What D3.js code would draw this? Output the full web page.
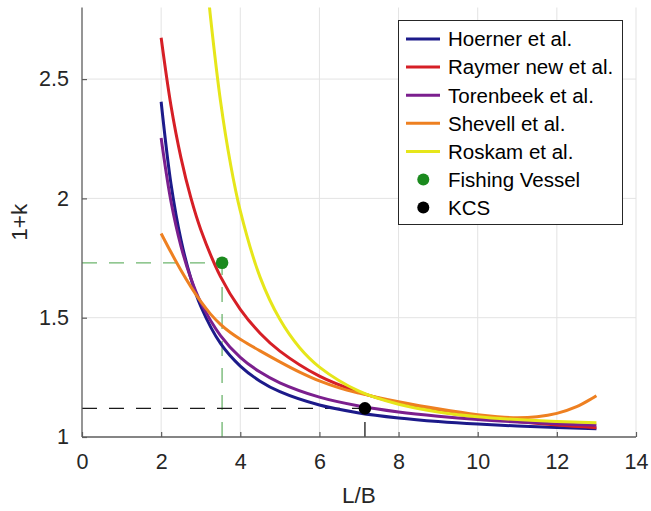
<!DOCTYPE html>
<html>
<head>
<meta charset="utf-8">
<script src="https://cdn.jsdelivr.net/npm/d3@7"></script>
<style>
  html, body { margin: 0; padding: 0; background: #fff; }
  svg { display: block; font-family: "Liberation Sans", Arial, Helvetica, sans-serif; }
</style>
</head>
<body>
<svg id="chart" width="651" height="511"></svg>
<script>
// Form factor (1+k) versus slenderness ratio L/B for several empirical methods
const lbSteep = [2, 2.25, 2.5, 2.75, 3, 3.5, 4, 4.5, 5, 6, 7, 8, 9, 10, 11, 12, 13];
const hoerner   = [2.405, 2.059, 1.827, 1.666, 1.548, 1.392, 1.297, 1.234, 1.190, 1.134, 1.101, 1.080, 1.065, 1.054, 1.046, 1.040, 1.035];
const raymerNew = [2.673, 2.387, 2.171, 2.003, 1.870, 1.672, 1.535, 1.435, 1.360, 1.255, 1.188, 1.141, 1.108, 1.083, 1.065, 1.050, 1.039];
const torenbeek = [2.253, 1.986, 1.800, 1.665, 1.564, 1.425, 1.334, 1.272, 1.227, 1.167, 1.130, 1.105, 1.087, 1.073, 1.063, 1.055, 1.049];

const lbShevell = [2, 2.25, 2.5, 2.75, 3, 3.25, 3.5, 3.75, 4, 4.5, 5, 5.5, 6, 6.5, 7, 7.5, 8, 9, 10, 10.5, 11, 11.5, 12, 12.5, 13];
const shevell   = [1.853, 1.774, 1.699, 1.630, 1.568, 1.515, 1.472, 1.438, 1.410, 1.361, 1.315, 1.272, 1.235, 1.206, 1.184, 1.165, 1.148, 1.118, 1.093, 1.085, 1.081, 1.085, 1.099, 1.127, 1.173];

const lbRoskam = [3.2, 3.25, 3.5, 3.75, 4, 4.5, 5, 5.5, 6, 7, 8, 9, 10, 11, 12, 13];
const roskam   = [2.839, 2.756, 2.408, 2.147, 1.948, 1.670, 1.493, 1.374, 1.293, 1.192, 1.137, 1.105, 1.085, 1.073, 1.065, 1.060];

// Reference vessels
const vesselNames = ["Fishing Vessel", "KCS"];
const vesselLB    = [3.54, 7.15];
const vesselK     = [1.73, 1.12];

const xTicks = [0, 2, 4, 6, 8, 10, 12, 14];
const yTicks = [1, 1.5, 2, 2.5];

const seriesNames  = ["Hoerner et al.", "Raymer new et al.", "Torenbeek et al.", "Shevell et al.", "Roskam et al."];
const seriesColors = ["#1c1a8a", "#d61f26", "#7b1f8e", "#ee8021", "#e6e61a"];
const vesselColors = ["#1b8a1e", "#000000"];
const guideColors  = ["#6db56d", "#1a1a1a"];

const series = [
  { name: seriesNames[0], xs: lbSteep,   ys: hoerner },
  { name: seriesNames[1], xs: lbSteep,   ys: raymerNew },
  { name: seriesNames[2], xs: lbSteep,   ys: torenbeek },
  { name: seriesNames[3], xs: lbShevell, ys: shevell },
  { name: seriesNames[4], xs: lbRoskam,  ys: roskam }
];

const svg = d3.select("#chart");
const plot = { left: 82, right: 636, top: 7.5, bottom: 437 };

const x = d3.scaleLinear().domain([0, 14]).range([plot.left, plot.right]);
const y = d3.scaleLinear().domain([1, 2.8]).range([plot.bottom, plot.top]);

svg.append("defs").append("clipPath").attr("id", "plotClip")
  .append("rect")
  .attr("x", plot.left).attr("y", plot.top)
  .attr("width", plot.right - plot.left).attr("height", plot.bottom - plot.top);

// Grid
const grid = svg.append("g").attr("stroke", "#e3e3e3").attr("stroke-width", 1);
xTicks.filter(t => t > 0).forEach(t => {
  grid.append("line")
    .attr("x1", x(t)).attr("x2", x(t))
    .attr("y1", plot.top).attr("y2", plot.bottom);
});
yTicks.filter(t => t > 1).forEach(t => {
  grid.append("line")
    .attr("x1", plot.left).attr("x2", plot.right)
    .attr("y1", y(t)).attr("y2", y(t));
});

// Dashed guide lines to each vessel
const guides = svg.append("g").attr("fill", "none").attr("stroke-width", 1.3);
vesselLB.forEach((lb, i) => {
  guides.append("path")
    .attr("d", `M${x(0)},${y(vesselK[i])}H${x(lb)}`)
    .attr("stroke", guideColors[i])
    .attr("stroke-dasharray", "15,12");
  guides.append("path")
    .attr("d", `M${x(lb)},${y(1)}V${y(vesselK[i])}`)
    .attr("stroke", guideColors[i])
    .attr("stroke-dasharray", "15,12");
});

// Curves
const line = d3.line().curve(d3.curveCatmullRom.alpha(0.5));
const curves = svg.append("g").attr("clip-path", "url(#plotClip)");
series.forEach((s, i) => {
  curves.append("path")
    .attr("d", line(s.xs.map((v, j) => [x(v), y(s.ys[j])])))
    .attr("fill", "none")
    .attr("stroke", seriesColors[i])
    .attr("stroke-width", 3)
    .attr("stroke-linejoin", "round");
});

// Vessel markers
vesselLB.forEach((lb, i) => {
  svg.append("circle")
    .attr("cx", x(lb)).attr("cy", y(vesselK[i]))
    .attr("r", 6.3)
    .attr("fill", vesselColors[i]);
});

// Axes
const axisColor = "#5c5c5c";
const xAxis = d3.axisBottom(x).tickValues(xTicks).tickSizeInner(-5).tickSizeOuter(0).tickPadding(17)
  .tickFormat(d3.format("d"));
const gx = svg.append("g").attr("transform", `translate(0,${plot.bottom})`).call(xAxis);
const yAxis = d3.axisLeft(y).tickValues(yTicks).tickSizeInner(-5).tickSizeOuter(0).tickPadding(13)
  .tickFormat(d => d3.format("")(d));
const gy = svg.append("g").attr("transform", `translate(${plot.left},0)`).call(yAxis);

[gx, gy].forEach(g => {
  g.select(".domain").attr("stroke", axisColor).attr("stroke-width", 1.3);
  g.selectAll(".tick line").attr("stroke", axisColor).attr("stroke-width", 1.2);
  g.selectAll(".tick text")
    .attr("fill", "#262626")
    .style("font-size", "21.5px")
    .style("font-family", "'Liberation Sans', Arial, sans-serif");
});
gy.select(".domain").attr("d", `M0,${plot.bottom}V${plot.top}`);
gx.select(".domain").attr("d", `M${plot.left},0H${plot.right}`);

// Axis titles
svg.append("text")
  .attr("x", (plot.left + plot.right) / 2).attr("y", 503)
  .attr("text-anchor", "middle")
  .attr("fill", "#262626")
  .style("font-size", "22.5px")
  .text("L/B");
svg.append("text")
  .attr("transform", `translate(27,${(plot.top + plot.bottom) / 2}) rotate(-90)`)
  .attr("text-anchor", "middle")
  .attr("fill", "#262626")
  .style("font-size", "22.5px")
  .text("1+k");

// Legend
const legend = svg.append("g");
legend.append("rect")
  .attr("x", 398.5).attr("y", 20.5)
  .attr("width", 224).attr("height", 204)
  .attr("fill", "#fff")
  .attr("stroke", "#262626")
  .attr("stroke-width", 1);
const rowY = i => 39 + i * 28.1;
seriesNames.forEach((name, i) => {
  legend.append("line")
    .attr("x1", 406).attr("x2", 440)
    .attr("y1", rowY(i)).attr("y2", rowY(i))
    .attr("stroke", seriesColors[i]).attr("stroke-width", 3);
  legend.append("text")
    .attr("x", 448).attr("y", rowY(i)).attr("dy", "0.36em")
    .attr("fill", "#000")
    .style("font-size", "20.5px")
    .text(name);
});
vesselNames.forEach((name, k) => {
  const i = seriesNames.length + k;
  legend.append("circle")
    .attr("cx", 423.3).attr("cy", rowY(i)).attr("r", 6)
    .attr("fill", vesselColors[k]);
  legend.append("text")
    .attr("x", 448).attr("y", rowY(i)).attr("dy", "0.36em")
    .attr("fill", "#000")
    .style("font-size", "20.5px")
    .text(name);
});
</script>
</body>
</html>
